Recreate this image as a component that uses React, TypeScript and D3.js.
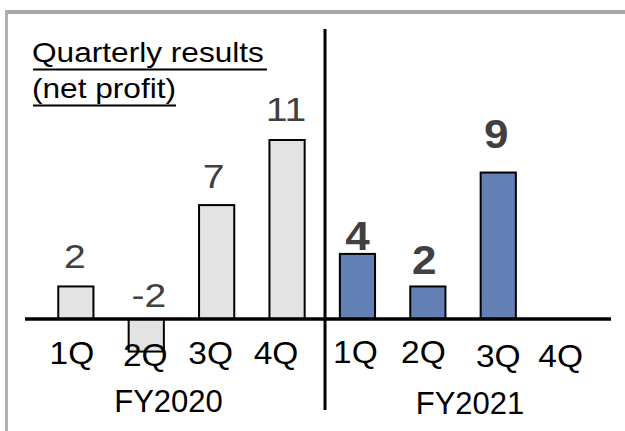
import React from "react";
import * as d3 from "d3";

// Quarterly net profit, by fiscal year
const quarters = ["1Q", "2Q", "3Q", "4Q"];
const fiscalYears = ["FY2020", "FY2021"];
const fy2020Profit: (number | null)[] = [2, -2, 7, 11];
const fy2021Profit: (number | null)[] = [4, 2, 9, null];
const titleLines = ["Quarterly results", "(net profit)"];

// Layout tweaks for the hand-placed labels (px)
const quarterLabelShift = [-4, -1, -6, -11, -2, -4.5, 0, -8];
const quarterLabelDrop = [45, 47, 45, 45, 44, 44, 48, 48];
const valueLabelShift = [-1, 2.5, -3, -1, 0, -3.5, -2, 0];
const valueLabelLift = [18.5, 12, 17, 19, 4, 12.5, 24.6, 0];

const W = 625;
const H = 431;
const FONT = "'Liberation Sans', Arial, sans-serif";

type Row = { key: string; quarter: string; year: number; value: number | null };

const rows: Row[] = [fy2020Profit, fy2021Profit].flatMap((series, yi) =>
  series.map((value, qi) => ({
    key: `${fiscalYears[yi]}-${quarters[qi]}`,
    quarter: quarters[qi],
    year: yi,
    value,
  }))
);

// Text drawn with a horizontal stretch around its anchor point
function WideText(props: {
  x: number;
  y: number;
  sx: number;
  size: number;
  anchor?: "start" | "middle";
  weight?: string;
  fill?: string;
  children: string;
}) {
  const { x, y, sx, size, anchor = "start", weight = "normal", fill = "#000", children } = props;
  return (
    <text
      transform={`translate(${x},${y}) scale(${sx},1)`}
      textAnchor={anchor}
      fontSize={size}
      fontWeight={weight}
      fill={fill}
    >
      {children}
    </text>
  );
}

export default function App() {
  const x = d3
    .scaleBand<string>()
    .domain(rows.map((r) => r.key))
    .range([40.65, 603.85])
    .paddingInner(0.5)
    .paddingOuter(0.25);
  const y = d3.scaleLinear().domain([0, 11]).range([319, 140]);

  const centerOf = (k: string) => (x(k) ?? 0) + x.bandwidth() / 2;
  const yearCenter = [168.5, 470];
  const dividerX = 325;

  return (
    <svg
      width={W}
      height={H}
      viewBox={`0 0 ${W} ${H}`}
      style={{ position: "absolute", left: 0, top: 0, background: "#fff" }}
      fontFamily={FONT}
    >
      <rect x={0} y={0} width={W} height={H} fill="#fff" />
      {/* frame */}
      <line x1={5} x2={W} y1={12} y2={12} stroke="#a6a6a6" strokeWidth={4} />
      <line x1={6.5} x2={6.5} y1={10} y2={H} stroke="#b0b0b0" strokeWidth={3} />

      {/* title */}
      {titleLines.map((t, i) => {
        const len = i === 0 ? 234 : 143;
        const by = i === 0 ? 62 : 98;
        return (
          <g key={t}>
            <WideText x={32} y={by} sx={1.15} size={27.5}>
              {t}
            </WideText>
            <line x1={33} x2={33 + len} y1={by + 7.5} y2={by + 7.5} stroke="#000" strokeWidth={2} />
          </g>
        );
      })}

      {/* bars */}
      {rows.map((r) =>
        r.value === null ? null : (
          <rect
            key={r.key}
            x={x(r.key)}
            y={y(Math.max(0, r.value))}
            width={x.bandwidth()}
            height={Math.abs(y(r.value) - y(0))}
            fill={r.year === 0 ? "#e3e3e3" : "#6380b5"}
            stroke="#000"
            strokeWidth={2}
          />
        )
      )}

      {/* zero line */}
      <line x1={25} x2={611} y1={y(0)} y2={y(0)} stroke="#000" strokeWidth={3.5} />

      {/* year divider */}
      <line x1={dividerX} x2={dividerX} y1={29} y2={410} stroke="#000" strokeWidth={3} />

      {/* value labels */}
      {rows.map((r, i) => {
        if (r.value === null) return null;
        const bold = r.year === 1;
        return (
          <WideText
            key={r.key}
            x={centerOf(r.key) + valueLabelShift[i]}
            y={y(Math.max(0, r.value)) - valueLabelLift[i]}
            sx={bold ? 1.1 : 1.15}
            size={bold ? 40 : 34}
            anchor="middle"
            weight={bold ? "bold" : "normal"}
            fill="#404040"
          >
            {String(r.value)}
          </WideText>
        );
      })}

      {/* quarter labels */}
      {rows.map((r, i) => (
        <WideText
          key={r.key}
          x={centerOf(r.key) + quarterLabelShift[i]}
          y={y(0) + quarterLabelDrop[i]}
          sx={1.08}
          size={31}
          anchor="middle"
        >
          {r.quarter}
        </WideText>
      ))}

      {/* fiscal year labels */}
      {fiscalYears.map((fy, i) => (
        <text
          key={fy}
          x={yearCenter[i]}
          y={i === 0 ? 412 : 414}
          textAnchor="middle"
          fontSize={31}
          fill="#000"
        >
          {fy}
        </text>
      ))}
    </svg>
  );
}
